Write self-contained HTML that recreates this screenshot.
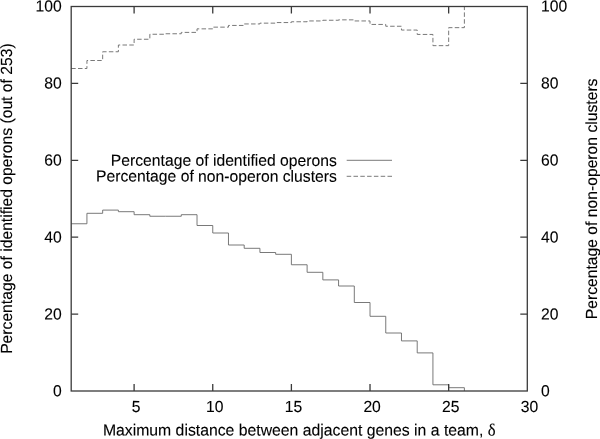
<!DOCTYPE html>
<html><head><meta charset="utf-8"><title>Plot</title>
<style>
html,body{margin:0;padding:0;background:#fff}
svg{display:block}
text{text-rendering:geometricPrecision;font-family:"Liberation Sans",Arial,Helvetica,sans-serif;font-size:16.1px;fill:#000;stroke:#000;stroke-width:0.1px}
</style></head><body>
<svg width="600" height="439" viewBox="0 0 600 439">
<rect width="600" height="439" fill="#fff"/>
<path d="M71.20 223.75 L86.93 223.75 L86.93 213.30 L102.66 213.30 L102.66 210.10 L118.38 210.10 L118.38 211.70 L134.11 211.70 L134.11 214.70 L149.84 214.70 L149.84 216.25 L165.57 216.25 L165.57 216.25 L181.29 216.25 L181.29 214.70 L197.02 214.70 L197.02 225.50 L212.75 225.50 L212.75 233.00 L228.48 233.00 L228.48 245.00 L244.20 245.00 L244.20 248.30 L259.93 248.30 L259.93 252.50 L275.66 252.50 L275.66 254.30 L291.39 254.30 L291.39 264.75 L307.11 264.75 L307.11 272.30 L322.84 272.30 L322.84 279.90 L338.57 279.90 L338.57 286.00 L354.30 286.00 L354.30 302.50 L370.02 302.50 L370.02 316.30 L385.75 316.30 L385.75 333.00 L401.48 333.00 L401.48 340.90 L417.21 340.90 L417.21 352.90 L432.93 352.90 L432.93 384.80 L448.66 384.80 L448.66 387.70 L464.39 387.70 L464.39 391.00" fill="none" stroke="#6a6a6a" stroke-width="0.9"/>
<path d="M71.20 68.50 L86.93 68.50 L86.93 60.50 L102.66 60.50 L102.66 51.75 L118.38 51.75 L118.38 45.00 L134.11 45.00 L134.11 39.25 L149.84 39.25 L149.84 34.25 L165.57 34.25 L165.57 33.75 L181.29 33.75 L181.29 32.40 L197.02 32.40 L197.02 28.85 L212.75 28.85 L212.75 27.15 L228.48 27.15 L228.48 25.45 L244.20 25.45 L244.20 23.95 L259.93 23.95 L259.93 23.15 L275.66 23.15 L275.66 22.55 L291.39 22.55 L291.39 21.75 L307.11 21.75 L307.11 20.95 L322.84 20.95 L322.84 20.25 L338.57 20.25 L338.57 19.85 L354.30 19.85 L354.30 20.95 L370.02 20.95 L370.02 24.45 L385.75 24.45 L385.75 26.25 L401.48 26.25 L401.48 30.05 L417.21 30.05 L417.21 34.45 L432.93 34.45 L432.93 45.65 L448.66 45.65 L448.66 27.65 L464.39 27.65 L464.39 6.50" fill="none" stroke="#6a6a6a" stroke-width="0.9" stroke-dasharray="4.5 2.3"/>
<path d="M346.7 160.3H392" stroke="#6a6a6a" stroke-width="0.9"/>
<path d="M346.7 176.3H392" stroke="#6a6a6a" stroke-width="0.9" stroke-dasharray="4.5 2.3"/>
<rect x="71.20" y="6.50" width="456.10" height="384.50" fill="none" stroke="#3a3a3a" stroke-width="1.3"/>
<path d="M134.11 391.00v-7M134.11 6.50v7M212.75 391.00v-7M212.75 6.50v7M291.39 391.00v-7M291.39 6.50v7M370.02 391.00v-7M370.02 6.50v7M448.66 391.00v-7M448.66 6.50v7M71.20 314.10h7M527.30 314.10h-7M71.20 237.20h7M527.30 237.20h-7M71.20 160.30h7M527.30 160.30h-7M71.20 83.40h7M527.30 83.40h-7" stroke="#3a3a3a" stroke-width="1.3" fill="none"/>
<text transform="translate(61.80 396.30) scale(0.975 1) matrix(1 0.0005 0 1 0 0)" text-anchor="end">0</text>
<text transform="translate(541.10 396.30) scale(0.975 1) matrix(1 0.0005 0 1 0 0)">0</text>
<text transform="translate(61.80 319.45) scale(0.975 1) matrix(1 0.0005 0 1 0 0)" text-anchor="end">20</text>
<text transform="translate(541.10 319.45) scale(0.975 1) matrix(1 0.0005 0 1 0 0)">20</text>
<text transform="translate(61.80 242.50) scale(0.975 1) matrix(1 0.0005 0 1 0 0)" text-anchor="end">40</text>
<text transform="translate(541.10 242.50) scale(0.975 1) matrix(1 0.0005 0 1 0 0)">40</text>
<text transform="translate(61.80 165.60) scale(0.975 1) matrix(1 0.0005 0 1 0 0)" text-anchor="end">60</text>
<text transform="translate(541.10 165.60) scale(0.975 1) matrix(1 0.0005 0 1 0 0)">60</text>
<text transform="translate(61.80 88.50) scale(0.975 1) matrix(1 0.0005 0 1 0 0)" text-anchor="end">80</text>
<text transform="translate(541.10 88.50) scale(0.975 1) matrix(1 0.0005 0 1 0 0)">80</text>
<text transform="translate(61.80 11.55) scale(0.975 1) matrix(1 0.0005 0 1 0 0)" text-anchor="end">100</text>
<text transform="translate(541.10 11.55) scale(0.975 1) matrix(1 0.0005 0 1 0 0)">100</text>
<text transform="translate(136.21 411.90) scale(0.975 1) matrix(1 0.0005 0 1 0 0)" text-anchor="middle">5</text>
<text transform="translate(214.85 411.90) scale(0.975 1) matrix(1 0.0005 0 1 0 0)" text-anchor="middle">10</text>
<text transform="translate(293.49 411.90) scale(0.975 1) matrix(1 0.0005 0 1 0 0)" text-anchor="middle">15</text>
<text transform="translate(372.12 411.90) scale(0.975 1) matrix(1 0.0005 0 1 0 0)" text-anchor="middle">20</text>
<text transform="translate(450.76 411.90) scale(0.975 1) matrix(1 0.0005 0 1 0 0)" text-anchor="middle">25</text>
<text transform="translate(529.40 411.90) scale(0.975 1) matrix(1 0.0005 0 1 0 0)" text-anchor="middle">30</text>
<text transform="translate(336.80 165.90) scale(0.975 1) matrix(1 0.0005 0 1 0 0)" text-anchor="end">Percentage of identified operons</text>
<text transform="translate(336.80 181.70) scale(0.975 1) matrix(1 0.0005 0 1 0 0)" text-anchor="end">Percentage of non-operon clusters</text>
<text transform="translate(299.25 435.50) scale(0.98 1) matrix(1 0.0005 0 1 0 0)" text-anchor="middle">Maximum distance between adjacent genes in a team, <tspan font-size="17" font-family="'Liberation Serif','DejaVu Serif',serif">δ</tspan></text>
<text transform="translate(11.80 198.60) rotate(-90) scale(0.975 1)" text-anchor="middle">Percentage of identified operons (out of 253)</text>
<text transform="translate(597.10 198.90) rotate(-90) scale(0.975 1)" text-anchor="middle">Percentage of non-operon clusters</text>
</svg>
</body></html>
